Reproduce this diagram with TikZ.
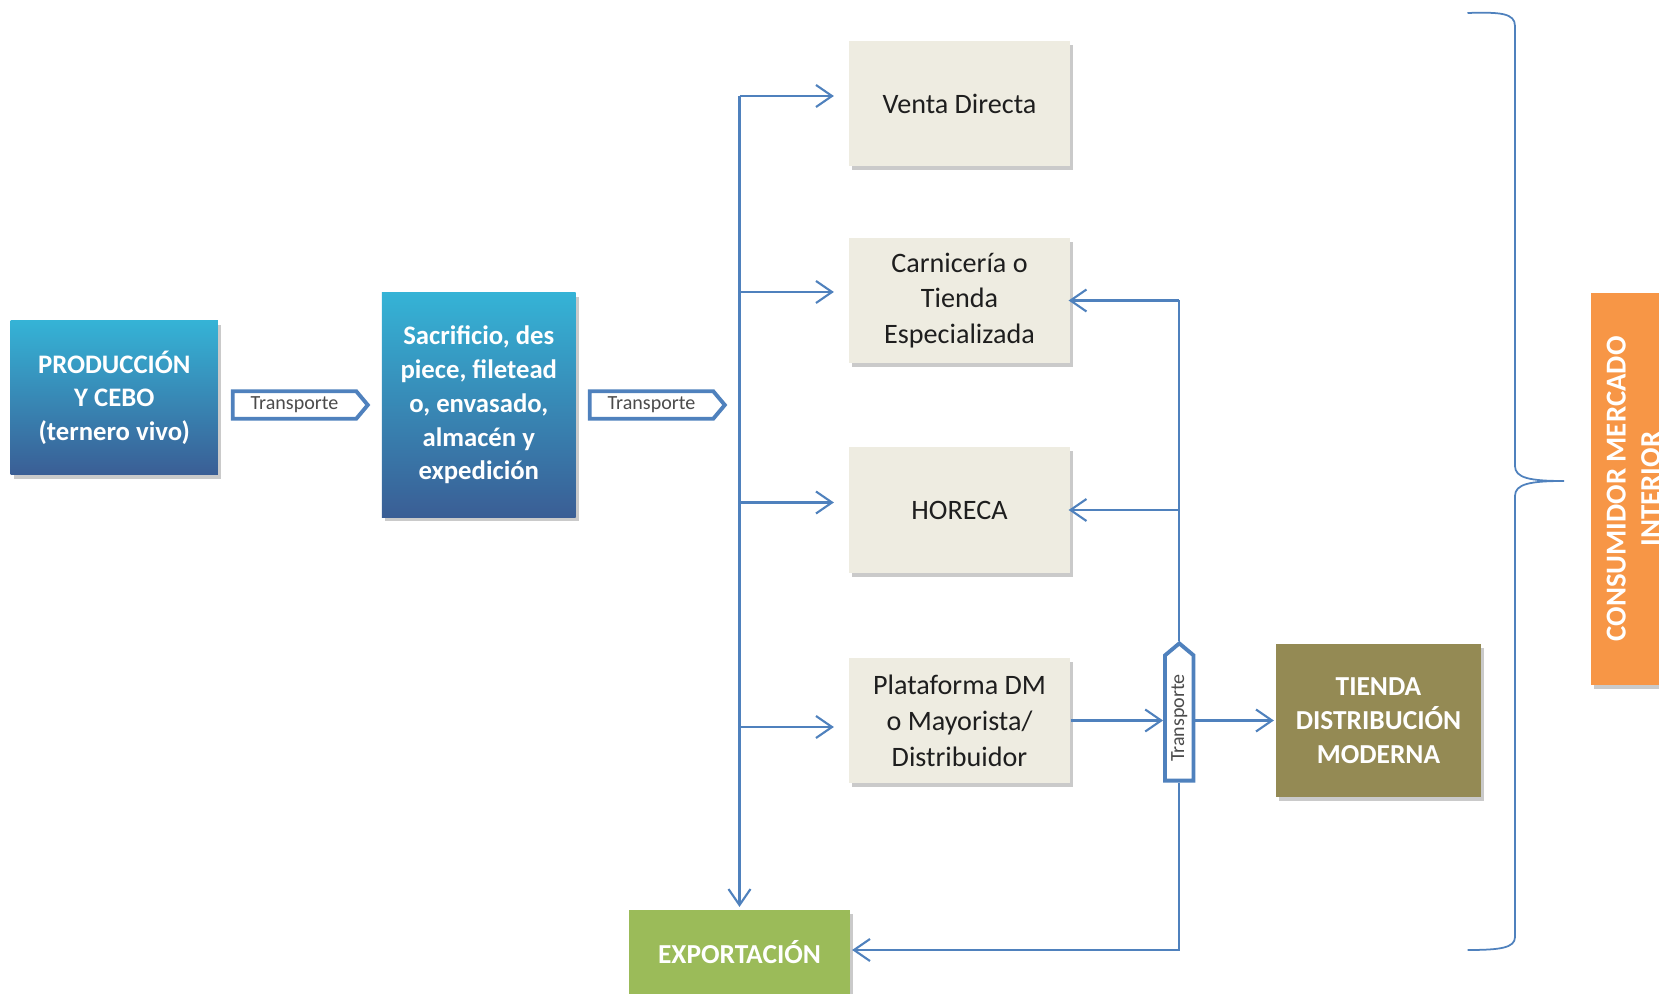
\documentclass[tikz,border=0pt]{standalone}
\usepackage{fontspec}
\usepackage{graphicx}
\setmainfont{Carlito}
\usetikzlibrary{arrows.meta,shapes.symbols,shadows}
\definecolor{flowLine}{HTML}{4F81BD}
\definecolor{flowTop}{HTML}{35B3D6}
\definecolor{flowBottom}{HTML}{3A5E95}
\definecolor{flowBeige}{HTML}{EEECE1}
\definecolor{flowOlive}{HTML}{948A54}
\definecolor{flowGreen}{HTML}{9BBB59}
\definecolor{flowOrange}{HTML}{F79646}
\definecolor{flowText}{HTML}{1E1E1E}

\begin{document}
\begin{tikzpicture}[
    x=0.01cm, y=-0.01cm,
    >={Straight Barb[length=1.6mm,width=2.2mm]},
    line width=0.6pt,
    box/.style={align=center, inner sep=0pt,
      drop shadow={shadow xshift=0.03cm, shadow yshift=-0.04cm, opacity=0.35, fill=black!60}},
    stage/.style={box, top color=flowTop, bottom color=flowBottom, text=white,
      font=\fontsize{7.6}{9.6}\selectfont\bfseries},
    outlet/.style={box, fill=flowBeige, text=flowText, minimum width=2.2cm,
      minimum height=1.25cm, font=\fontsize{8}{10.2}\selectfont},
    solid/.style={box, text=white, font=\fontsize{7.8}{9.6}\selectfont\bfseries},
    transp/.style={signal, signal pointer angle=100, draw=flowLine, line width=1.1pt,
      fill=white, inner sep=0pt, text=flowText!80, font=\fontsize{5.7}{6}\selectfont},
    flow/.style={->, draw=flowLine},
    link/.style={draw=flowLine},
  ]
  \clip (0,0) rectangle (1659,994);

  % Production chain
  \node[stage, minimum width=2.07cm, minimum height=1.54cm] (prod) at (114.3,397.8)
    {PRODUCCIÓN\\Y CEBO\\(ternero vivo)};
  \node[transp, signal to=east, minimum width=1.35cm, minimum height=0.275cm] (tr1) at (294.5,405) {Transporte};
  \node[stage, minimum width=1.935cm, minimum height=2.24cm] (sacr) at (478.8,405)
    {Sacrificio, des\\piece, filetead\\o, envasado,\\almacén y\\expedición};
  \node[transp, signal to=east, minimum width=1.35cm, minimum height=0.275cm] (tr2) at (651.5,405) {Transporte};

  % Outlets
  \node[outlet] (venta) at (959.5,103.5) {Venta Directa};
  \node[outlet] (carn) at (959.5,300.5) {Carnicería o\\Tienda\\Especializada};
  \node[outlet] (horeca) at (959.5,510) {HORECA};
  \node[outlet] (plat) at (959.5,720.5) {Plataforma DM\\o Mayorista/\\Distribuidor};
  \node[transp, signal to=north, minimum width=0.285cm, minimum height=1.32cm] (tr3) at (1179.3,718)
    {\rotatebox{90}{Transporte}};
  \node[solid, fill=flowOlive, minimum width=2.05cm, minimum height=1.53cm] (tienda) at (1378.5,720.5)
    {TIENDA\\DISTRIBUCIÓN\\MODERNA};
  \node[solid, fill=flowGreen, minimum width=2.2cm, minimum height=0.84cm] (export) at (739.5,952)
    {EXPORTACIÓN};
  \node[solid, fill=flowOrange, rotate=90, minimum width=3.91cm, minimum height=0.85cm,
    font=\fontsize{8.2}{9.8}\selectfont\bfseries] (cons) at (1633.5,489)
    {CONSUMIDOR MERCADO\\INTERIOR};

  % Distribution trunk
  \coordinate (trunk) at (739.5,96);
  \draw[flow, shorten >=0.2mm] (trunk) -- (export.north);
  \foreach \target/\dy in {venta/0.075, carn/0.085, horeca/0.075, plat/-0.065}
    \draw[flow, shorten >=1.45mm] ([yshift=\dy cm]\target.west -| trunk) -- ([yshift=\dy cm]\target.west);

  % Return line
  \coordinate (rtop) at (1179.3,300.5);
  \draw[flow, shorten >=-0.2mm] (rtop) -- (carn.east);
  \draw[flow, shorten >=-0.2mm] (rtop |- horeca.east) -- (horeca.east);
  \draw[link] (rtop) -- (tr3.north);
  \draw[flow, shorten >=0.15mm] (tr3.south) |- ([yshift=0.02cm]export.east);
  \draw[flow] (plat.east) -- (plat.east -| tr3.west);
  \draw[flow, shorten >=0.1mm] (plat.east -| tr3.east) -- (tienda.west);

  % Brace
  \draw[flowLine, line width=0.5pt] (1467.5,13) .. controls (1500,12) and (1515,13) .. (1515,26)
    -- (1515,466) .. controls (1515,478) and (1530,481) .. (1564,481)
    .. controls (1530,481) and (1515,484) .. (1515,496)
    -- (1515,937) .. controls (1515,948) and (1500,950) .. (1467.5,950);
\end{tikzpicture}
\end{document}
